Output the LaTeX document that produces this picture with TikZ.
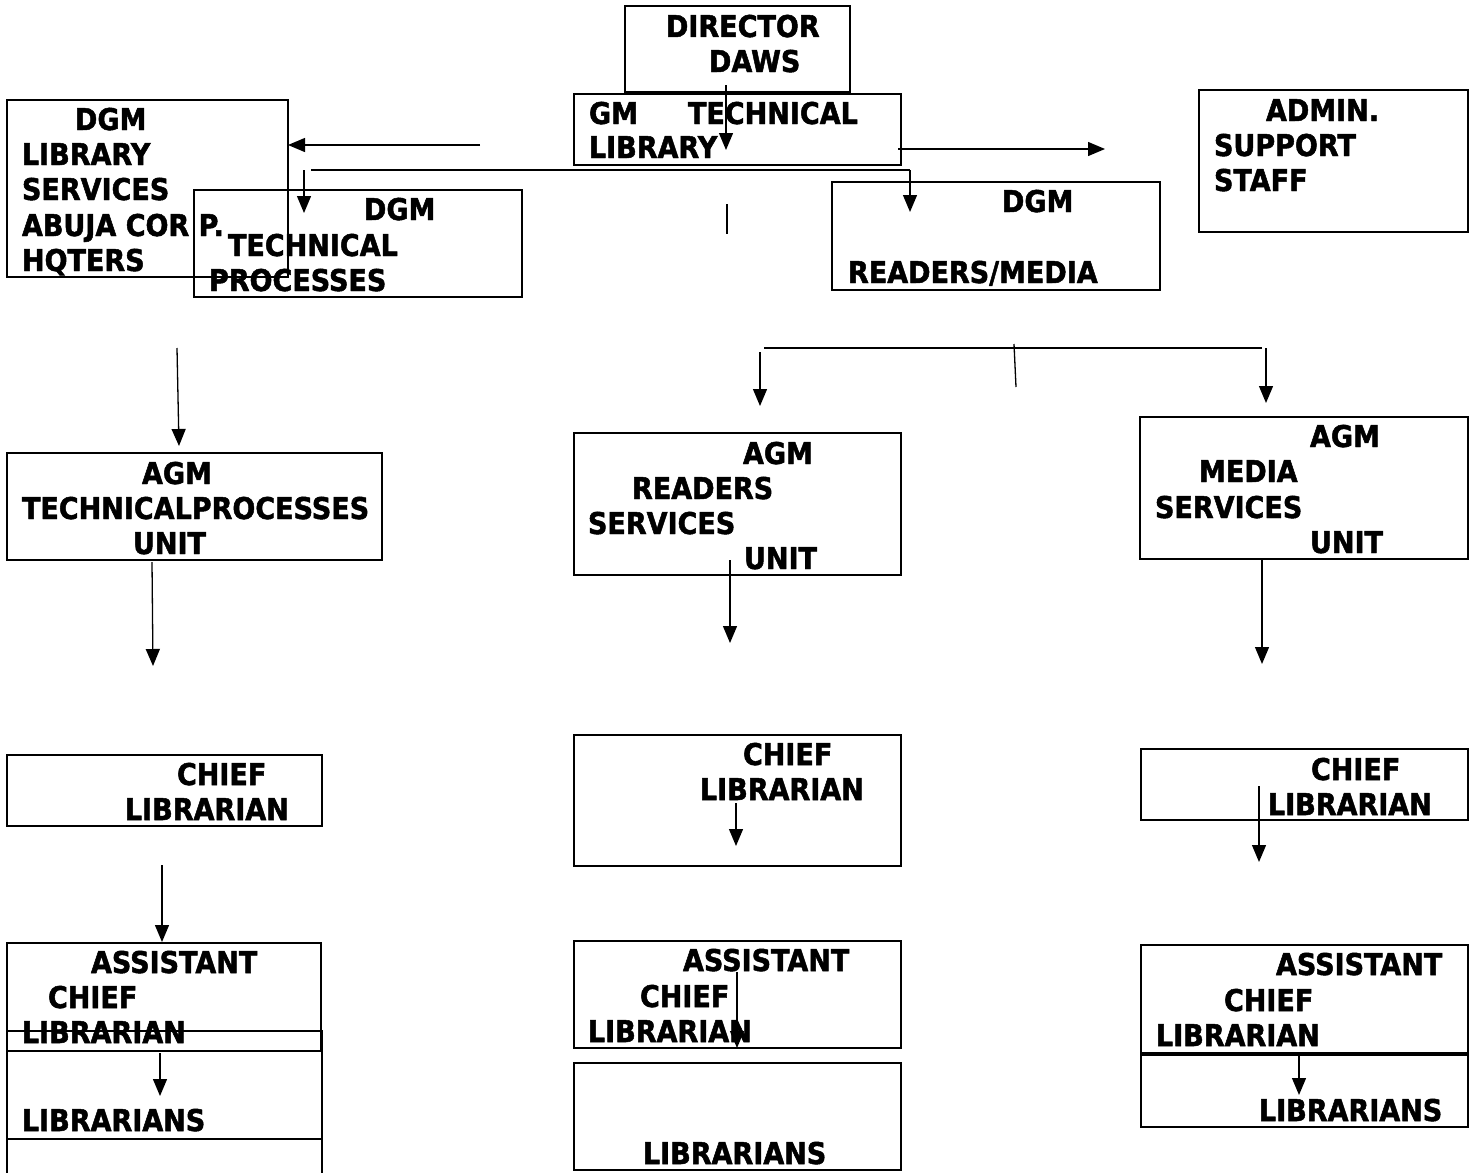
\documentclass[tikz,border=0pt]{standalone}
\usepackage{fontspec}
\setmainfont{DejaVu Sans}[FakeStretch=0.9, BoldFeatures={FakeBold=1.6}]
\usetikzlibrary{arrows.meta}
\tikzset{
  box/.style={draw=black, line width=1.8pt},
  txt/.style={inner sep=0pt, outer sep=0pt, anchor=base west, font=\fontsize{30}{35}\selectfont\bfseries},
  arr/.style={draw=black, line width=1.3pt, -{Triangle[length=17pt,width=14pt]}},
  ln/.style={draw=black, line width=1.3pt}
}
\newcommand{\bx}[5]{\path[box] (#2,#3) rectangle (#4,#5); \coordinate (#1) at (#2,#3);}
\begin{document}
\begin{tikzpicture}[x=1pt,y=-1pt]
\useasboundingbox (0,0) rectangle (1474,1172);
\clip (0,0) rectangle (1474,1172);
% boxes
\bx{bDir}{625}{6}{850}{92}
\bx{bGM}{574}{94}{901}{165}
\bx{bDGMLS}{7}{100}{288}{277}
\bx{bDGMTP}{194}{190}{522}{297}
\bx{bDGMRM}{832}{182}{1160}{290}
\bx{bAdmin}{1199}{90}{1468}{232}
\bx{bAGMTP}{7}{453}{382}{560}
\bx{bAGMRS}{574}{433}{901}{575}
\bx{bAGMMS}{1140}{417}{1468}{559}
\bx{bCLa}{7}{755}{322}{826}
\bx{bCLb}{574}{735}{901}{866}
\bx{bCLc}{1141}{749}{1468}{820}
\bx{bACLa}{7}{943}{321}{1051}
\bx{bLiba}{7}{1031}{322}{1139}
\bx{bExtra}{7}{1139}{322}{1200}
\bx{bACLb}{574}{941}{901}{1048}
\bx{bLibb}{574}{1063}{901}{1170}
\bx{bACLc}{1141}{945}{1468}{1053}
\bx{bLibc}{1141}{1055}{1468}{1127}
% texts
\node[txt] (t1) at (666,37) {DIRECTOR};
\node[txt] (t2) at (709,72) {DAWS};
\node[txt] (t3) at (589,124) {GM};
\node[txt] (t4) at (688,124) {TECHNICAL};
\node[txt] (t5) at (589,158) {LIBRARY};
\node[txt] (t6) at (75,130) {DGM};
\node[txt] (t7) at (22,165) {LIBRARY};
\node[txt] (t8) at (22,200) {SERVICES};
\node[txt] (t9) at (22,236) {ABUJA COR P.};
\node[txt] (t10) at (22,271) {HQTERS};
\node[txt] (t11) at (364,220) {DGM};
\node[txt] (t12) at (228,256) {TECHNICAL};
\node[txt] (t13) at (209,291) {PROCESSES};
\node[txt] (t14) at (1002,212) {DGM};
\node[txt] (t15) at (848,283) {READERS/MEDIA};
\node[txt] (t16) at (1266,121) {ADMIN.};
\node[txt] (t17) at (1214,156) {SUPPORT};
\node[txt] (t18) at (1214,191) {STAFF};
\node[txt] (t19) at (142,484) {AGM};
\node[txt] (t20) at (22,519) {TECHNICALPROCESSES};
\node[txt] (t21) at (133,554) {UNIT};
\node[txt] (t22) at (743,464) {AGM};
\node[txt] (t23) at (632,499) {READERS};
\node[txt] (t24) at (588,534) {SERVICES};
\node[txt] (t25) at (744,569) {UNIT};
\node[txt] (t26) at (1310,447) {AGM};
\node[txt] (t27) at (1199,482) {MEDIA};
\node[txt] (t28) at (1155,518) {SERVICES};
\node[txt] (t29) at (1310,553) {UNIT};
\node[txt] (t30) at (177,785) {CHIEF};
\node[txt] (t31) at (125,820) {LIBRARIAN};
\node[txt] (t32) at (743,765) {CHIEF};
\node[txt] (t33) at (700,800) {LIBRARIAN};
\node[txt] (t34) at (1311,780) {CHIEF};
\node[txt] (t35) at (1268,815) {LIBRARIAN};
\node[txt] (t36) at (91,973) {ASSISTANT};
\node[txt] (t37) at (48,1008) {CHIEF};
\node[txt] (t38) at (22,1043) {LIBRARIAN};
\node[txt] (t39) at (22,1131) {LIBRARIANS};
\node[txt] (t40) at (683,971) {ASSISTANT};
\node[txt] (t41) at (640,1007) {CHIEF};
\node[txt] (t42) at (588,1042) {LIBRARIAN};
\node[txt] (t43) at (643,1164) {LIBRARIANS};
\node[txt] (t44) at (1276,975) {ASSISTANT};
\node[txt] (t45) at (1224,1011) {CHIEF};
\node[txt] (t46) at (1156,1046) {LIBRARIAN};
\node[txt] (t47) at (1259,1121) {LIBRARIANS};
% connector end points
\coordinate (c1a) at (726,85);   \coordinate (c1b) at (726,150);
\coordinate (c2a) at (480,145);  \coordinate (c2b) at (288,145);
\coordinate (c3a) at (898,149);  \coordinate (c3b) at (1105,149);
\coordinate (h1a) at (311,170);  \coordinate (h1b) at (910,170);
\coordinate (c4b) at (910,212);
\coordinate (c5a) at (304,170);  \coordinate (c5b) at (304,213);
\coordinate (v1a) at (727,204);  \coordinate (v1b) at (727,234);
\coordinate (c6a) at (177,348);  \coordinate (c6b) at (179,446);
\coordinate (c7a) at (152,562);  \coordinate (c7b) at (153,666);
\coordinate (c8a) at (162,865);  \coordinate (c8b) at (162,942);
\coordinate (c9a) at (160,1053); \coordinate (c9b) at (160,1096);
\coordinate (h2a) at (764,348);  \coordinate (h2b) at (1262,348);
\coordinate (c10a) at (760,352); \coordinate (c10b) at (760,406);
\coordinate (c11a) at (1266,348);\coordinate (c11b) at (1266,403);
\coordinate (v2a) at (1014,344); \coordinate (v2b) at (1016,387);
\coordinate (c12a) at (730,560); \coordinate (c12b) at (730,643);
\coordinate (c13a) at (736,803); \coordinate (c13b) at (736,846);
\coordinate (c14a) at (737,972); \coordinate (c14b) at (737,1048);
\coordinate (c15a) at (1262,560);\coordinate (c15b) at (1262,664);
\coordinate (c16a) at (1259,786);\coordinate (c16b) at (1259,862);
\coordinate (c17a) at (1299,1056);\coordinate (c17b) at (1299,1095);
% connectors
\draw[arr] (c1a) -- (c1b);
\draw[arr] (c2a) -- (c2b);
\draw[arr] (c3a) -- (c3b);
\draw[ln] (h1a) -- (h1b);
\draw[arr] (h1b) -- (c4b);
\draw[arr] (c5a) -- (c5b);
\draw[ln] (v1a) -- (v1b);
\draw[arr] (c6a) -- (c6b);
\draw[arr] (c7a) -- (c7b);
\draw[arr] (c8a) -- (c8b);
\draw[arr] (c9a) -- (c9b);
\draw[ln] (h2a) -- (h2b);
\draw[arr] (c10a) -- (c10b);
\draw[arr] (c11a) -- (c11b);
\draw[ln] (v2a) -- (v2b);
\draw[arr] (c12a) -- (c12b);
\draw[arr] (c13a) -- (c13b);
\draw[arr] (c14a) -- (c14b);
\draw[arr] (c15a) -- (c15b);
\draw[arr] (c16a) -- (c16b);
\draw[arr] (c17a) -- (c17b);
\end{tikzpicture}
\end{document}
